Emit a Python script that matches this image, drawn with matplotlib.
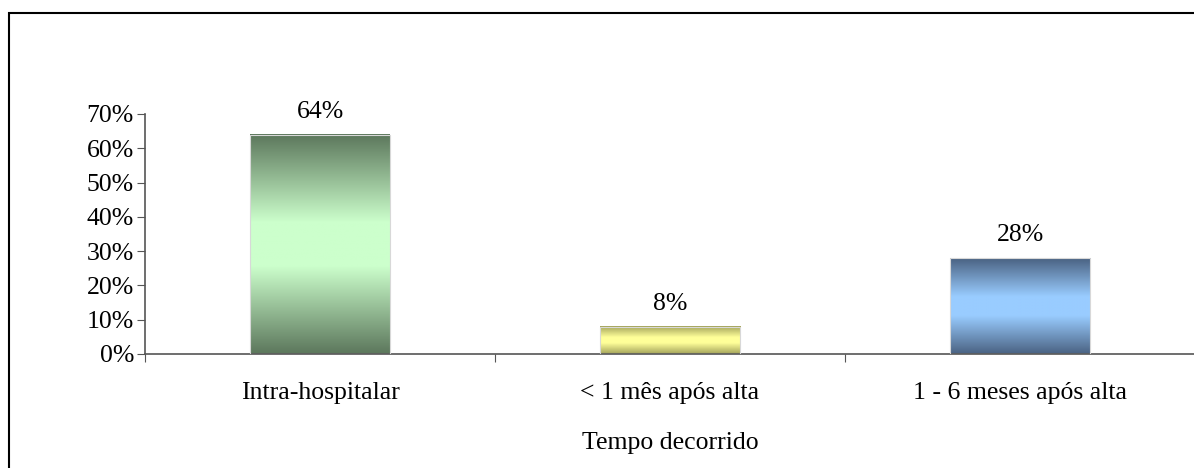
import numpy as np
import matplotlib.pyplot as plt
from matplotlib.colors import LinearSegmentedColormap
from matplotlib.ticker import PercentFormatter
from matplotlib.patches import Rectangle

plt.rcParams['font.family'] = ['Liberation Serif', 'DejaVu Serif']

# dados
categorias = ['Intra-hospitalar', '< 1 mês após alta', '1 - 6 meses após alta']
valores = [0.64, 0.08, 0.28]
rotulos = ['64%', '8%', '28%']
# cor escura (bordas) e cor clara (meio) de cada barra
cores_escuras = ['#5c775c', '#a3a35a', '#4a6282']
cores_claras = ['#ccffcc', '#ffff99', '#99ccff']

fs = 18.5

fig = plt.figure(figsize=(11.94, 4.68), dpi=100)
ax = fig.add_axes([145 / 1194, 1 - 354 / 468, 1050 / 1194, 240 / 468])

x = np.arange(len(categorias))
barras = ax.bar(x, valores, width=0.4, color='none', edgecolor='#d8d8d8',
                linewidth=0.8, zorder=3)

# preenchimento em degradê (escuro - claro - escuro)
for b, c1, c2 in zip(barras, cores_escuras, cores_claras):
    cmap = LinearSegmentedColormap.from_list(
        'g', [(0, c1), (0.4, c2), (0.6, c2), (1, c1)])
    grad = np.linspace(0, 1, 256).reshape(-1, 1)
    x0, y0 = b.get_x(), b.get_y()
    w, h = b.get_width(), b.get_height()
    ax.imshow(grad, cmap=cmap, aspect='auto', extent=[x0, x0 + w, y0, y0 + h],
              origin='lower', zorder=2)

for xi, v, r in zip(x, valores, rotulos):
    ax.text(xi, v + 0.035, r, ha='center', va='bottom', fontsize=fs)

ax.set_xlim(-0.5, 2.5)
ax.set_ylim(0, 0.7)
ax.set_yticks(np.arange(0, 0.71, 0.1))
ax.yaxis.set_major_formatter(PercentFormatter(1.0, decimals=0))
ax.set_xticks([-0.5, 0.5, 1.5, 2.5])
ax.set_xticklabels([])
ax.set_xticks(x, minor=True)
ax.set_xticklabels(categorias, minor=True)
ax.tick_params(axis='x', which='minor', length=0, pad=20, labelsize=fs)
ax.tick_params(axis='x', which='major', length=6, direction='out', color='#555555')
ax.tick_params(axis='y', length=6, direction='out', color='#555555', labelsize=fs, pad=2)
for lado in ['top', 'right']:
    ax.spines[lado].set_visible(False)
for lado in ['left', 'bottom']:
    ax.spines[lado].set_color('#555555')
    ax.spines[lado].set_linewidth(1.2)

ax.set_xlabel('Tempo decorrido', fontsize=fs, labelpad=20)

# moldura do gráfico
fig.patches.append(Rectangle((8.5 / 1194, -0.05), 1.1, 1 - 12.5 / 468 + 0.05,
                             transform=fig.transFigure, fill=False,
                             edgecolor='black', linewidth=1.5))

fig.savefig('out.png', dpi=100)
